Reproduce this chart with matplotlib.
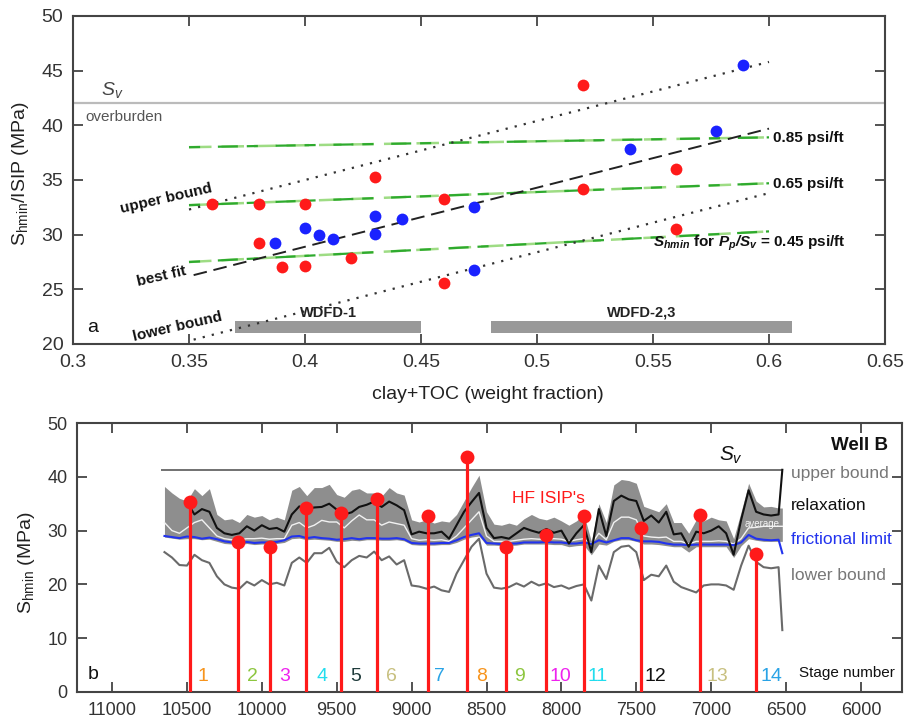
import numpy as np
import matplotlib
matplotlib.use("Agg")
import matplotlib.pyplot as plt

plt.rcParams['font.family'] = ['Liberation Sans', 'DejaVu Sans']
plt.rcParams['mathtext.fontset'] = 'custom'
plt.rcParams['mathtext.rm'] = 'Liberation Sans'
plt.rcParams['mathtext.it'] = 'Liberation Sans:italic'
plt.rcParams['mathtext.bf'] = 'Liberation Sans:bold:italic'

# ---------------- Panel a data ----------------
red_x = [0.36, 0.38, 0.40, 0.38, 0.39, 0.40, 0.42, 0.43, 0.46, 0.46, 0.52, 0.52, 0.56, 0.56]
red_y = [32.8, 32.8, 32.8, 29.2, 27.0, 27.1, 27.9, 35.3, 33.3, 25.6, 43.7, 34.2, 36.0, 30.5]
blue_x = [0.387, 0.400, 0.406, 0.412, 0.430, 0.430, 0.442, 0.473, 0.473, 0.540, 0.577, 0.589]
blue_y = [29.2, 30.6, 30.0, 29.6, 31.7, 30.1, 31.4, 32.5, 26.8, 37.8, 39.5, 45.5]

upper_x = [0.350, 0.600]
upper_y = [32.3, 45.8]
best_x = [0.352, 0.600]
best_y = [26.3, 39.7]
lower_x = [0.352, 0.600]
lower_y = [20.4, 33.8]
g85_x = [0.350, 0.600]
g85_y = [38.0, 38.9]
g65_x = [0.350, 0.600]
g65_y = [32.7, 34.7]
g45_x = [0.350, 0.600]
g45_y = [27.5, 30.3]
sv_top = 42.0
wdfd_names = ['WDFD-1', 'WDFD-2,3']
wdfd_start = [0.37, 0.48]
wdfd_end = [0.45, 0.61]
xticks_a = [0.3, 0.35, 0.4, 0.45, 0.5, 0.55, 0.6, 0.65]
xticklabels_a = ['0.3', '0.35', '0.4', '0.45', '0.5', '0.55', '0.6', '0.65']
yticks_a = [20, 25, 30, 35, 40, 45, 50]

# ---------------- Panel b data ----------------
depth = [10650, 10600, 10550, 10500, 10450, 10400, 10350, 10300, 10250, 10200,
         10150, 10100, 10050, 10000, 9950, 9900, 9850, 9800, 9750, 9700,
         9650, 9600, 9550, 9500, 9450, 9400, 9350, 9300, 9250, 9200,
         9150, 9100, 9050, 9000, 8950, 8900, 8850, 8800, 8750, 8700,
         8650, 8600, 8550, 8500, 8450, 8400, 8350, 8300, 8250, 8200,
         8150, 8100, 8050, 8000, 7950, 7900, 7850, 7800, 7750, 7700,
         7650, 7600, 7550, 7500, 7450, 7400, 7350, 7300, 7250, 7200,
         7150, 7100, 7050, 7000, 6950, 6900, 6850, 6800, 6750, 6700,
         6650, 6600, 6550, 6525]
upper_b = [38.2, 37.0, 36.0, 35.5, 37.8, 36.5, 37.8, 33.0, 32.0, 32.2,
           31.5, 33.0, 32.5, 32.8, 32.0, 32.5, 32.0, 37.5, 38.2, 36.5,
           38.0, 38.0, 38.6, 36.7, 36.2, 37.5, 37.8, 37.0, 37.0, 36.4,
           38.0, 37.0, 36.6, 32.0, 31.6, 32.0, 31.4, 31.8, 31.6, 33.0,
           35.5, 38.0, 40.3, 33.5, 31.2, 31.0, 31.4, 31.0, 32.2, 33.0,
           32.3, 32.0, 32.5, 31.8, 31.0, 31.8, 33.0, 28.0, 35.0, 31.5,
           38.5, 39.5, 39.3, 38.8, 34.5, 34.0, 33.5, 35.0, 31.5, 31.5,
           29.5, 32.0, 31.8, 32.5, 32.0, 31.8, 28.5, 33.5, 38.8, 35.5,
           34.4, 34.5, 34.2, 34.2]
band_low = [28.8, 28.6, 28.4, 28.5, 28.5, 28.3, 28.4, 28.0, 27.6, 27.5,
            27.4, 27.6, 27.4, 27.5, 27.5, 27.6, 27.8, 28.5, 28.6, 28.3,
            28.4, 28.3, 28.2, 28.0, 28.0, 28.2, 28.1, 28.3, 28.3, 28.2,
            28.2, 28.3, 28.1, 27.4, 27.3, 27.3, 27.3, 27.4, 27.4, 27.8,
            28.4, 28.8, 29.0, 27.3, 27.3, 27.2, 27.2, 27.3, 27.5, 27.5,
            27.5, 27.5, 27.4, 27.4, 27.0, 27.2, 27.3, 25.5, 27.5, 27.3,
            28.0, 28.3, 28.3, 28.0, 27.5, 27.5, 27.4, 27.2, 27.0, 27.0,
            26.0, 27.0, 27.0, 27.0, 27.0, 27.0, 25.0, 27.2, 28.5, 28.2,
            28.0, 28.0, 28.0, 28.0]
relax = [np.nan, np.nan, np.nan, 35.3, 33.0, 34.0, 33.5, 30.5, 29.5, 29.2,
         29.5, 30.8, 30.0, 31.0, 30.3, 30.5, 29.8, 33.0, 34.5, 34.0,
         34.3, 34.4, 35.0, 33.9, 33.0, 33.4, 34.4, 34.8, 35.4, 34.4,
         35.4, 34.7, 33.8, 29.3, 29.8, 29.5, 29.5, 29.8, 28.5, 31.0,
         33.5, 35.3, 37.0, 30.5, 28.6, 28.8, 28.5, 29.5, 30.5, 30.0,
         29.6, 30.3, 29.6, 30.0, 27.6, 29.5, 31.0, 26.0, 34.0, 29.0,
         35.5, 36.5, 35.8, 35.5, 31.8, 32.8, 31.5, 33.5, 29.3, 29.5,
         27.0, 29.8, 29.5, 30.0, 30.8, 29.5, 25.5, 32.0, 37.5, 33.5,
         33.0, 32.8, 33.0, 41.3]
average = [31.5, 30.0, 29.5, 30.5, 31.5, 32.0, 30.5, 29.0, 28.5, 28.3,
           28.3, 28.5, 28.5, 28.6, 28.4, 28.5, 28.5, 31.0, 31.5, 30.5,
           31.0, 31.9, 31.6, 31.6, 30.5, 31.8, 32.9, 32.0, 32.0, 31.0,
           31.6, 31.3, 31.0, 28.5, 28.2, 28.3, 28.2, 28.3, 28.0, 29.0,
           30.5, 32.0, 33.5, 29.0, 28.0, 28.0, 28.0, 28.2, 28.4, 28.5,
           28.4, 28.4, 28.5, 28.4, 28.0, 28.3, 28.5, 27.5, 29.5, 28.3,
           31.5, 32.5, 32.5, 32.0, 29.0, 28.8, 28.7, 28.8, 28.0, 28.0,
           27.5, 28.0, 28.0, 28.0, 28.1, 28.0, 27.5, 28.5, 30.5, 30.6,
           30.8, 30.8, 30.8, 30.8]
frictional = [29.0, 28.8, 28.6, 28.9, 28.8, 28.5, 28.7, 28.4, 28.0, 27.8,
              27.7, 27.9, 27.7, 27.8, 27.8, 27.9, 28.2, 28.9, 29.0, 28.6,
              28.8, 28.6, 28.5, 28.3, 28.4, 28.6, 28.4, 28.6, 28.6, 28.5,
              28.5, 28.6, 28.4, 27.7, 27.6, 27.6, 27.6, 27.7, 27.7, 28.2,
              28.8, 29.2, 29.5, 27.7, 27.6, 27.5, 27.6, 27.6, 27.8, 27.8,
              27.8, 27.9, 27.8, 27.8, 27.6, 27.6, 27.8, 27.5, 28.2, 27.8,
              28.2, 28.6, 28.6, 28.2, 28.0, 28.0, 27.9, 27.6, 27.4, 27.4,
              27.3, 27.4, 27.4, 27.4, 27.4, 27.4, 27.3, 27.8, 29.2, 28.5,
              28.3, 28.2, 28.3, 25.8]
lower_b = [26.0, 25.0, 23.6, 23.5, 25.5, 24.5, 24.0, 21.5, 20.0, 19.4,
           19.2, 20.5, 19.8, 20.8, 20.0, 20.3, 19.8, 24.0, 25.0, 24.0,
           25.8, 25.8, 26.8, 24.2, 23.2, 24.5, 25.3, 25.0, 26.1, 24.5,
           25.2, 23.7, 24.5, 19.8, 19.6, 19.2, 19.6, 18.9, 18.6, 22.0,
           24.5, 27.0, 28.5, 22.0, 19.4, 19.2, 19.5, 20.2, 19.6, 20.5,
           19.8, 20.2, 19.5, 19.8, 19.2, 19.7, 20.0, 17.0, 23.5, 21.0,
           26.0, 27.0, 27.2, 26.0, 20.8, 21.8, 21.5, 23.5, 20.5, 19.5,
           19.0, 18.5, 19.8, 20.0, 20.0, 19.8, 19.0, 23.5, 27.2, 24.2,
           23.2, 23.0, 23.2, 11.5]
sv_b = 41.3
sv_b_start, sv_b_end = 10670, 6525
isip_depth = [10480, 10160, 9945, 9705, 9470, 9230, 8890, 8630, 8370, 8105, 7850, 7470, 7075, 6700]
isip = [35.3, 27.9, 27.0, 34.2, 33.3, 35.9, 32.7, 43.7, 27.0, 29.2, 32.7, 30.5, 32.9, 25.6]
stage_labels = ['1', '2', '3', '4', '5', '6', '7', '8', '9', '10', '11', '12', '13', '14']
stage_depth = [10392, 10065, 9845, 9598, 9371, 9138, 8817, 8530, 8283, 8009, 7756, 7375, 6961, 6600]
stage_colors = ['#f7941d', '#8dc63f', '#ee22ee', '#22ddee', '#1f3b3b', '#c8c080', '#29a3e6',
                '#f7941d', '#8dc63f', '#ee22ee', '#22ddee', '#111111', '#c8c080', '#29a3e6']
xticks_b = [11000, 10500, 10000, 9500, 9000, 8500, 8000, 7500, 7000, 6500, 6000]
xticklabels_b = ['11000', '10500', '10000', '9500', '9000', '8500', '8000', '7500', '7000', '6500', '6000']
yticks_b = [0, 10, 20, 30, 40, 50]

# ---------------- Figure ----------------
W, H = 912, 725
fig = plt.figure(figsize=(W / 100, H / 100), dpi=100)
ax1 = fig.add_axes([73 / W, 1 - 344 / H, 812 / W, 328 / H])
ax2 = fig.add_axes([77 / W, 1 - 692 / H, 825 / W, 269 / H])

for ax in (ax1, ax2):
    for s in ax.spines.values():
        s.set_color('#444444')
        s.set_linewidth(1.5)
    ax.tick_params(direction='in', length=7, width=1.3, top=True, right=True,
                   colors='#444444', labelcolor='#333333', pad=7)

# ---- Panel a ----
ax1.set_xlim(0.3, 0.65)
ax1.set_ylim(20, 50)
ax1.set_xticks(xticks_a)
ax1.set_xticklabels(xticklabels_a)
ax1.set_yticks(yticks_a)
ax1.tick_params(labelsize=14)

ax1.axhline(sv_top, color='#bbbbbb', lw=1.6, zorder=1)
for gx, gy in ((g85_x, g85_y), (g65_x, g65_y), (g45_x, g45_y)):
    ax1.plot(gx, gy, color='#9edc84', lw=1.8, dashes=(9, 4), zorder=2)
    ax1.plot(gx, gy, color='#2eaa2e', lw=1.6, dashes=(5, 8, 9, 4), zorder=2)
ax1.plot(best_x, best_y, color='#222222', lw=1.4, dashes=(7, 3.5), zorder=3)
ax1.plot(upper_x, upper_y, color='#333333', lw=1.6, dashes=(1.0, 3.2), zorder=3)
ax1.plot(lower_x, lower_y, color='#333333', lw=1.6, dashes=(1.0, 3.2), zorder=3)

for name, s0, s1 in zip(wdfd_names, wdfd_start, wdfd_end):
    ax1.fill_between([s0, s1], 21.0, 22.1, color='#999999', lw=0, zorder=2)
    ax1.text((s0 + s1) / 2, 22.2, name, ha='center', va='bottom', fontsize=10.5,
             fontweight='bold', color='#222222', zorder=4)

ax1.plot(red_x, red_y, 'o', color='#ff1a1a', ms=8.5, mec='none', zorder=5)
ax1.plot(blue_x, blue_y, 'o', color='#1a22ff', ms=8.5, mec='none', zorder=5)

ax1.text(0.317, 43.2, r'$S_v$', fontsize=14, color='#444444', ha='center', va='center')
ax1.text(0.3055, 40.75, 'overburden', fontsize=11, color='#555555', ha='left', va='center')
ax1.text(0.340, 33.3, 'upper bound', fontsize=11, fontweight='bold', rotation=13,
         ha='center', va='center', color='#111111')
ax1.text(0.338, 26.2, 'best fit', fontsize=11, fontweight='bold', rotation=13,
         ha='center', va='center', color='#111111')
ax1.text(0.345, 21.6, 'lower bound', fontsize=11, fontweight='bold', rotation=13,
         ha='center', va='center', color='#111111')
ax1.text(0.3085, 21.5, 'a', fontsize=14, ha='center', va='center', color='#111111')
ax1.text(0.6017, 38.85, '0.85 psi/ft', fontsize=11, fontweight='bold', ha='left', va='center', color='#111111')
ax1.text(0.6017, 34.6, '0.65 psi/ft', fontsize=11, fontweight='bold', ha='left', va='center', color='#111111')
ax1.text(0.550, 29.2, r'$\mathbf{S_{hmin}}$ for $\mathbf{P_p/S_v}$ = 0.45 psi/ft', fontsize=11,
         fontweight='bold', ha='left', va='center', color='#111111')

ax1.set_xlabel('clay+TOC (weight fraction)', fontsize=14, color='#222222')
ax1.xaxis.set_label_coords(0.511, -0.128)
ax1.xaxis.label.set_va('top')
ax1.set_ylabel(r'S$_\mathrm{hmin}$/ISIP (MPa)', fontsize=14, color='#222222')
ax1.yaxis.set_label_coords(-0.052, 0.52)

# ---- Panel b ----
ax2.set_xlim(11234, 5726)
ax2.set_ylim(0, 50)
ax2.set_xticks(xticks_b)
ax2.set_xticklabels(xticklabels_b)
ax2.set_yticks(yticks_b)
ax2.tick_params(labelsize=13)

ax2.hlines(sv_b, sv_b_start, sv_b_end, color='#666666', lw=1.3, zorder=1)
ax2.fill_between(depth, band_low, upper_b, color='#8e8e8e', lw=0, zorder=2)
ax2.plot(depth, lower_b, color='#6a6a6a', lw=1.5, zorder=3)
ax2.plot(depth, average, color='#f2f2f2', lw=1.0, zorder=3)
ax2.plot(depth, frictional, color='#2233ee', lw=1.5, zorder=4)
ax2.plot(depth, relax, color='#111111', lw=1.5, zorder=4)
ax2.vlines(isip_depth, 0, isip, color='#ff1a1a', lw=2.3, zorder=5)
ax2.plot(isip_depth, isip, 'o', color='#ff1a1a', ms=10, mec='none', zorder=6)

for lab, d, c in zip(stage_labels, stage_depth, stage_colors):
    ax2.text(d, 2.8, lab, color=c, fontsize=14, ha='center', va='center', zorder=6)

ax2.text(6010, 45.9, 'Well B', fontsize=13.5, fontweight='bold', ha='center', va='center', color='#111111')
ax2.text(6867, 44.0, r'$S_v$', fontsize=15, ha='center', va='center', color='#111111')
ax2.text(6467, 40.7, 'upper bound', fontsize=12.5, ha='left', va='center', color='#777777')
ax2.text(6467, 34.6, 'relaxation', fontsize=12.5, ha='left', va='center', color='#111111')
ax2.text(6467, 28.3, 'frictional limit', fontsize=12.5, ha='left', va='center', color='#2233ee')
ax2.text(6467, 21.6, 'lower bound', fontsize=12.5, ha='left', va='center', color='#777777')
ax2.text(6413, 3.5, 'Stage number', fontsize=11, ha='left', va='center', color='#111111')
ax2.text(8329, 36.0, "HF ISIP's", fontsize=12.5, ha='left', va='center', color='#ff1a1a', zorder=6)
ax2.text(6660, 31.2, 'average', fontsize=7, ha='center', va='center', color='#f4f4f4', zorder=5)
ax2.text(11127, 3.2, 'b', fontsize=14, ha='center', va='center', color='#111111')

ax2.set_ylabel(r'S$_\mathrm{hmin}$ (MPa)', fontsize=14, color='#222222')
ax2.yaxis.set_label_coords(-0.049, 0.48)

fig.savefig('out.png', dpi=100, facecolor='white')
